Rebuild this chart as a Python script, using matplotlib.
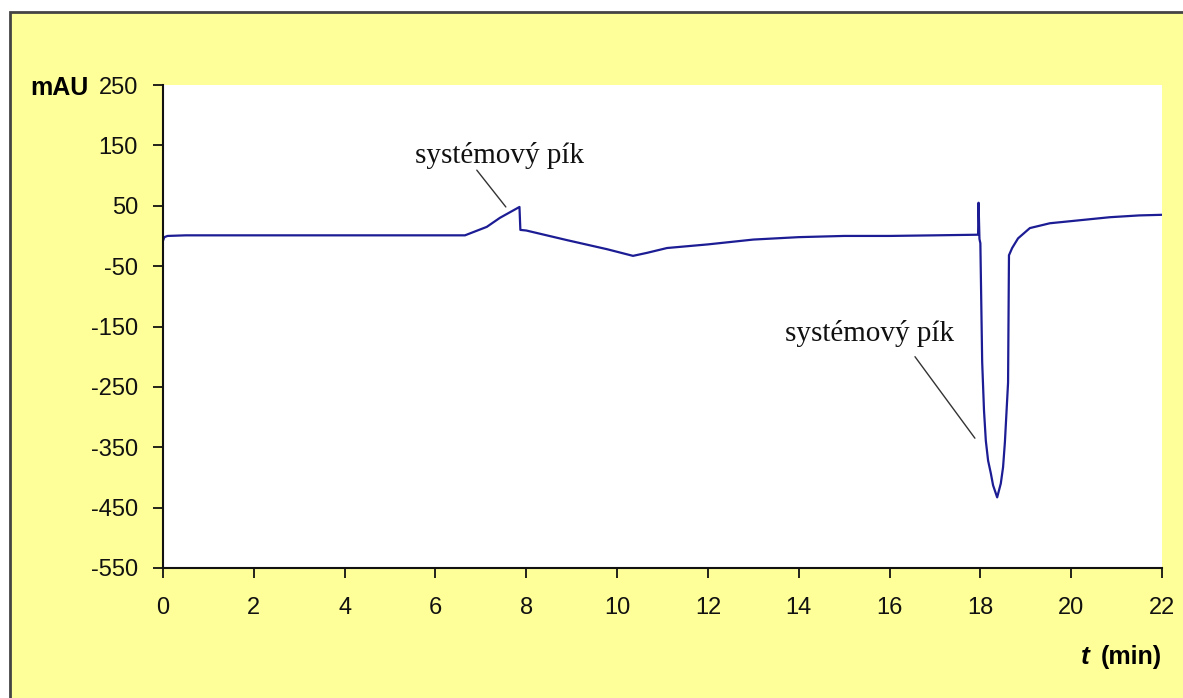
import matplotlib
matplotlib.use("Agg")
import matplotlib.pyplot as plt
from matplotlib.patches import Rectangle

# ---- data ----
t_min = [0.0, 0.03, 0.1, 0.5, 1, 2, 3, 4, 5, 6, 6.65, 7.13, 7.42, 7.85, 7.87, 8.0,
         8.9, 9.78, 10.35, 10.66, 11.1, 12.0, 13.0, 14.0, 15.0, 16.0, 17.0,
         17.93, 17.95, 17.96, 17.98, 18.0, 18.04, 18.08, 18.12, 18.17, 18.23,
         18.28, 18.37, 18.45, 18.50, 18.54, 18.61, 18.63, 18.70, 18.83, 19.09,
         19.53, 20.19, 20.85, 21.5, 22.0]
mau = [-8, -2, 0, 1, 1, 1, 1, 1, 1, 1, 1, 15, 30, 48, 10, 9,
       -7, -22, -33, -28, -20, -14, -6, -2, 0, 0, 1,
       2, 2, 55, -5, -12, -209, -289, -339, -372, -393,
       -413, -433, -410, -383, -342, -243, -32, -20, -4, 13,
       21, 26, 31, 34, 35]
x_ticks = [0, 2, 4, 6, 8, 10, 12, 14, 16, 18, 20, 22]
y_ticks = [250, 150, 50, -50, -150, -250, -350, -450, -550]
annot_text = "systémový pík"
# annotation text positions and leader lines (data coords)
annot_pos = [(7.42, 134), (15.55, -161)]
leader_start = [(6.91, 109), (16.56, -200)]
leader_end = [(7.55, 48), (17.88, -335)]

W, H = 1183, 698
fig = plt.figure(figsize=(W / 100, H / 100), dpi=100)
fig.patch.set_facecolor("white")

# yellow panel with dark border
panel = Rectangle((10 / W, -0.01), 1.2, 1 - 12 / H + 0.01, transform=fig.transFigure,
                  facecolor="#FFFF99", edgecolor="#444444", linewidth=2.0, zorder=-5)
fig.add_artist(panel)

ax = fig.add_axes([163 / W, 1 - 568 / H, (1162 - 163) / W, (568 - 85) / H])
ax.set_zorder(2)
ax.set_facecolor("white")
ax.plot(t_min, mau, color="#1c1c94", linewidth=1.6)

ax.set_xlim(0, 22)
ax.set_ylim(-550, 250)
ax.set_xticks(x_ticks)
ax.set_yticks(y_ticks)
ax.set_xticklabels([str(v) for v in x_ticks])
ax.set_yticklabels([str(v) for v in y_ticks])
for s in ["top", "right"]:
    ax.spines[s].set_visible(False)
for s in ["left", "bottom"]:
    ax.spines[s].set_linewidth(1.5)
    ax.spines[s].set_color("#111111")
ax.tick_params(axis="both", direction="out", length=7, width=1.3, colors="#111111",
               labelsize=17, labelcolor="#111111")
ax.tick_params(axis="x", pad=14)
ax.tick_params(axis="y", pad=11)
for lab in ax.get_xticklabels() + ax.get_yticklabels():
    lab.set_fontfamily("Liberation Sans")

# axis labels
fig.text(30 / W, 1 - 88 / H, "mAU", fontsize=18, fontweight="bold",
         family="Liberation Sans", ha="left", va="center")
fig.text(1162 / W, 1 - 657 / H, "(min)", fontsize=18, fontweight="bold",
         family="Liberation Sans", ha="right", va="center")
fig.text(1090 / W, 1 - 657 / H, "t", fontsize=19, fontweight="bold", style="italic",
         family="Liberation Sans", ha="right", va="center")

# annotations
for (tx, ty), (sx, sy), (ex, ey) in zip(annot_pos, leader_start, leader_end):
    ax.text(tx, ty, annot_text, fontsize=21, family="Liberation Serif",
            ha="center", va="center", color="#111111")
    ax.annotate("", xy=(ex, ey), xytext=(sx, sy),
                arrowprops=dict(arrowstyle="-", color="#333333", lw=1.0,
                                shrinkA=0, shrinkB=0))

fig.savefig("out.png", dpi=100, facecolor=fig.get_facecolor())
